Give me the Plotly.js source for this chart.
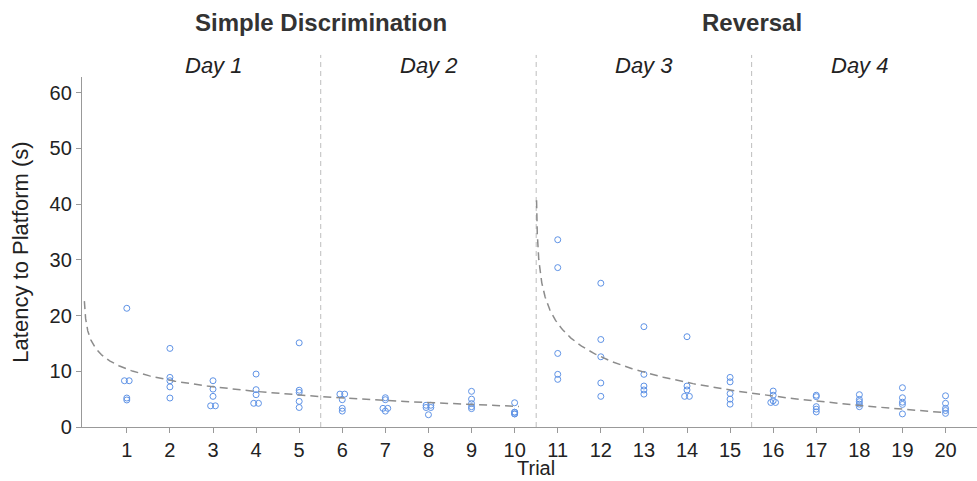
<!DOCTYPE html>
<html>
<head>
<meta charset="utf-8">
<script src="https://cdn.plot.ly/plotly-3.0.1.min.js"></script>
<style>
  html, body { margin: 0; padding: 0; background: #fff; }
  #chart { width: 977px; height: 481px; }
</style>
</head>
<body>
<div id="chart"></div>
<script>
// ---- Data ----
const trials = [1,2,3,4,5,6,7,8,9,10,11,12,13,14,15,16,17,18,19,20];
const tickLabels = trials.map(String);

// latency (s) of each animal, per trial
const latencyByTrial = [
  [21.3, 8.3, 8.3, 5.2, 4.85],
  [14.1, 8.9, 8.3, 7.2, 5.2],
  [8.3, 6.8, 5.5, 3.8, 3.8],
  [9.5, 6.7, 5.8, 4.25, 4.25],
  [15.1, 6.6, 6.2, 4.6, 3.5],
  [5.9, 5.9, 4.9, 3.35, 2.85],
  [5.25, 4.9, 3.35, 3.35, 2.85],
  [3.9, 3.9, 3.5, 3.5, 2.2],
  [6.4, 5.0, 4.2, 3.65, 3.3],
  [4.35, 2.65, 2.65, 2.35, 2.35],
  [33.6, 28.6, 13.2, 9.45, 8.55],
  [25.8, 15.7, 12.6, 7.9, 5.5],
  [18.0, 9.45, 7.35, 6.65, 5.9],
  [16.2, 7.35, 6.65, 5.5, 5.5],
  [8.9, 8.1, 6.0, 5.0, 4.1],
  [6.45, 5.7, 4.7, 4.4, 4.4],
  [5.7, 5.45, 3.65, 3.2, 2.7],
  [5.8, 4.95, 4.55, 4.1, 3.65],
  [7.05, 5.25, 4.45, 4.05, 2.35],
  [5.6, 4.25, 3.35, 2.95, 2.45]
];

// horizontal jitter (trial units) separating overlapping points
const jitterByTrial = [
  [0, -1, 1, 0, 0],
  [0, 0, 0, 0, 0],
  [0, 0, 0, -1, 1],
  [0, 0, 0, -1, 1],
  [0, 0, 0, 0, 0],
  [-1, 1, 0, 0, 0],
  [0, 0, -1, 1, 0],
  [-1, 1, -1, 1, 0],
  [0, 0, 0, 0, 0],
  [0, 0, 0, 0, 0],
  [0, 0, 0, 0, 0],
  [0, 0, 0, 0, 0],
  [0, 0, 0, 0, 0],
  [0, 0, 0, -1, 1],
  [0, 0, 0, 0, 0],
  [0, 0, 0, -1, 1],
  [0, 0, 0, 0, 0],
  [0, 0, 0, 0, 0],
  [0, 0, 0, 0, 0],
  [0, 0, 0, 0, 0]
];
const jitterStep = 0.055;

// logarithmic trend lines per phase: y = a + b*ln(trial - x0)
const phaseNames = ["Simple Discrimination", "Reversal"];
const phaseCenters = [5.5, 15.5];
const fitA = [10.4, 14.8];
const fitB = [-2.9, -5.43];
const fitX0 = [0, 10.5];
const fitStart = [0.015, 10.5085];
const fitEnd = [10.1, 20.0];

const dayNames = ["Day 1", "Day 2", "Day 3", "Day 4"];
const dayCenters = [3, 8, 13, 18];
const separators = [5.5, 10.5, 15.5];

// ---- Build traces ----
const px = [], py = [];
trials.forEach((t, i) => {
  latencyByTrial[i].forEach((v, j) => {
    px.push(t + jitterByTrial[i][j] * jitterStep);
    py.push(v);
  });
});

const traces = [{
  type: 'scatter', mode: 'markers', x: px, y: py,
  marker: { symbol: 'circle-open', size: 6, color: '#5f93e6', line: { width: 1, color: '#5f93e6' } },
  hoverinfo: 'x+y', showlegend: false, cliponaxis: false
}];

for (let p = 0; p < 2; p++) {
  const xs = [], ys = [];
  const u0 = fitStart[p] - fitX0[p], u1 = fitEnd[p] - fitX0[p];
  const n = 300;
  for (let k = 0; k <= n; k++) {
    const u = u0 * Math.pow(u1 / u0, k / n);
    xs.push(u + fitX0[p]);
    ys.push(fitA[p] + fitB[p] * Math.log(u));
  }
  traces.push({
    type: 'scatter', mode: 'lines', x: xs, y: ys,
    line: { color: '#8c8c8c', width: 1.5, dash: '8px,5px' },
    hoverinfo: 'skip', showlegend: false
  });
}

// ---- Layout ----
const shapes = separators.map(s => ({
  type: 'line', xref: 'x', yref: 'paper', x0: s, x1: s, y0: 0, y1: 1.063,
  line: { color: '#bdbdbd', width: 1, dash: '5px,4px' }, layer: 'below'
}));

const annotations = [];
phaseNames.forEach((name, i) => annotations.push({
  text: '<b>' + name + '</b>', xref: 'x', yref: 'paper', x: phaseCenters[i], y: 1.157,
  xanchor: 'center', yanchor: 'middle', showarrow: false,
  font: { family: 'Liberation Sans, Arial, sans-serif', size: 24, color: '#333333' }
}));
dayNames.forEach((name, i) => annotations.push({
  text: '<i>' + name + '</i>', xref: 'x', yref: 'paper', x: dayCenters[i], y: 1.034,
  xanchor: 'center', yanchor: 'middle', showarrow: false,
  font: { family: 'Liberation Sans, Arial, sans-serif', size: 22, color: '#222222' }
}));
// x-axis title
annotations.push({
  text: 'Trial', xref: 'x', yref: 'paper', x: 10.5, y: -0.117,
  xanchor: 'center', yanchor: 'middle', showarrow: false,
  font: { family: 'Liberation Sans, Arial, sans-serif', size: 20, color: '#222222' }
});

const layout = {
  width: 977, height: 481,
  margin: { l: 82, r: 0, t: 77, b: 54, pad: 0 },
  paper_bgcolor: '#ffffff', plot_bgcolor: '#ffffff',
  font: { family: 'Liberation Sans, Arial, sans-serif', color: '#222222', size: 20 },
  showlegend: false,
  xaxis: {
    range: [-0.04, 20.73], tickmode: 'array', tickvals: trials, ticktext: tickLabels,
    ticks: 'outside', ticklen: 5, tickcolor: '#999999', tickwidth: 1,
    showline: true, linecolor: '#999999', linewidth: 1.2,
    showgrid: false, zeroline: false,
    tickfont: { size: 20, color: '#222222' }
  },
  yaxis: {
    range: [0, 62.8], tickvals: [0, 10, 20, 30, 40, 50, 60],
    ticks: 'outside', ticklen: 5, tickcolor: '#999999', tickwidth: 1,
    showline: true, linecolor: '#999999', linewidth: 1.2,
    showgrid: false, zeroline: false,
    tickfont: { size: 20, color: '#222222' },
    title: { text: 'Latency to Platform (s)', font: { size: 22, color: '#222222' }, standoff: 14 }
  },
  shapes: shapes,
  annotations: annotations
};

Plotly.newPlot('chart', traces, layout, { displayModeBar: false, staticPlot: true });
</script>
</body>
</html>
